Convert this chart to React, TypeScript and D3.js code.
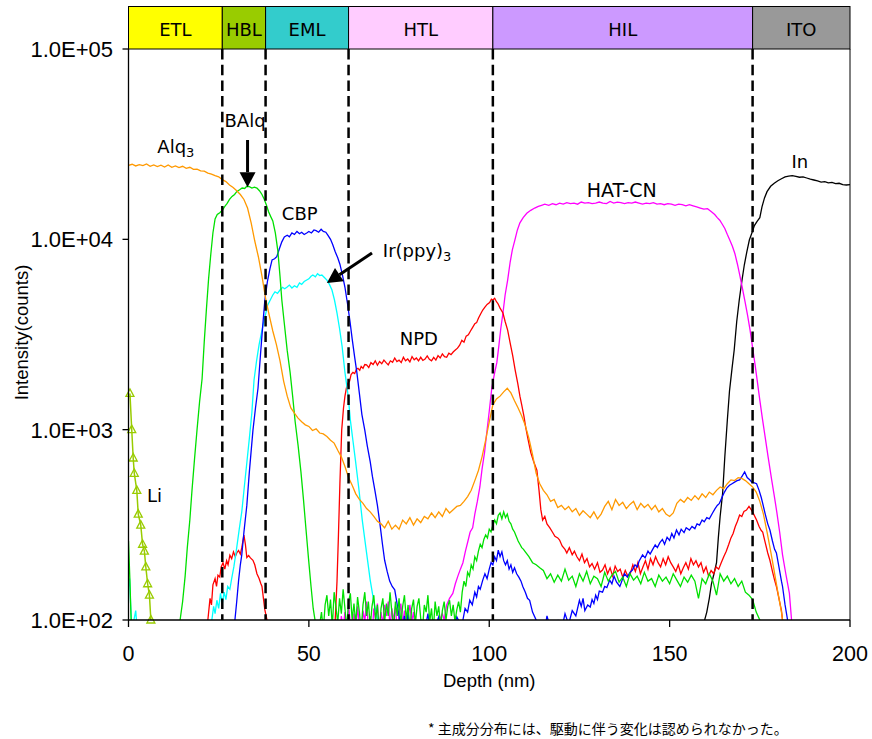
import React from "react";
import * as d3 from "d3";

// ---------- data (depth nm, counts) ----------
const layerNames = ["ETL", "HBL", "EML", "HTL", "HIL", "ITO"];
const layerEdges = [0, 26, 38, 61, 101, 173, 200];
const layerColors = ["#FFFF00", "#99CC00", "#33CCCC", "#FFCCFF", "#CC99FF", "#999999"];

const xTicks = [0, 50, 100, 150, 200];
const yTicks = [100, 1000, 10000, 100000];
const yTickLabels = ["1.0E+02", "1.0E+03", "1.0E+04", "1.0E+05"];

const alq3: [number, number][] = [[0,24500],[1,24800],[2,24300],[3,24700],[4,24400],[5,24900],[6,24200],[7,24600],[8,24100],[9,24500],[10,24000],[11,24600],[12,23900],[13,24300],[14,23800],[15,24200],[16,23600],[17,23900],[18,23300],[19,23400],[20,22900],[21,22800],[22,22300],[23,22000],[24,21600],[25,21300],[26,20600],[27,20100],[28,19300],[29,18700],[30,18000],[31,17200],[32,16200],[33,14600],[34,12200],[35,9800],[36,8100],[37,6400],[38,4900],[39,4000],[40,3300],[41,2800],[42,2300],[43,1800],[44,1500],[45,1300],[46,1220],[47,1150],[48,1100],[49,1060],[50,1040],[51,990],[52,1010],[53,960],[54,950],[55,920],[56,880],[57,850],[58,780],[59,720],[60,640],[61,560],[62,510],[63,460],[64,430],[65,410],[66,385],[67,370],[68,350],[69,330],[70,320],[71,305],[72,330],[73,300],[74,315],[75,300],[76,335],[77,320],[78,345],[79,315],[80,340],[81,325],[82,350],[83,340],[84,365],[85,345],[86,370],[87,350],[88,385],[89,365],[90,380],[91,395],[92,400],[93,420],[94,445],[95,480],[96,540],[97,610],[98,720],[99,880],[100,1100],[101,1350],[102,1450],[103,1500],[104,1580],[105,1650],[106,1560],[107,1420],[108,1300],[109,1180],[110,1050],[111,900],[112,740],[113,590],[114,520],[115,480],[116,455],[117,420],[118,430],[119,390],[120,400],[121,380],[122,395],[123,370],[124,385],[125,355],[126,375],[127,360],[128,345],[129,370],[130,340],[131,360],[132,395],[133,420],[134,380],[135,430],[136,400],[137,415],[138,385],[139,405],[140,420],[141,380],[142,410],[143,390],[144,405],[145,380],[146,400],[147,370],[148,385],[149,360],[150,350],[151,365],[152,410],[153,430],[154,415],[155,440],[156,425],[157,450],[158,430],[159,460],[160,440],[161,470],[162,455],[163,480],[164,500],[165,490],[166,520],[167,545],[168,540],[169,560],[170,555],[171,540],[172,520],[173,500],[174,470],[175,420],[176,360],[177,290],[178,230],[179,180],[180,140],[181,110],[182,80],[183,60]];

const balq: [number, number][] = [[0,260],[0.4,160],[0.8,90],[1.2,60],[13.5,60],[14.3,100],[15,125],[15.7,170],[16.3,240],[17,335],[17.6,480],[18.3,700],[19,1000],[19.7,1400],[20.4,1850],[21,2900],[21.6,4300],[22.2,6200],[22.8,8300],[23.4,10800],[24,12800],[24.6,13500],[25.3,13800],[26,14200],[26.7,14900],[27.3,15400],[28,16200],[28.7,16800],[29.4,17200],[30,17800],[30.8,18200],[31.5,18600],[32.2,18500],[32.8,19000],[33.5,18900],[34.2,18600],[34.9,18800],[35.6,18600],[36.3,18000],[37,17200],[37.6,16300],[38.2,15200],[38.8,14000],[39.4,13200],[40,12500],[40.7,10800],[41.4,8700],[42,6400],[42.5,4800],[43.2,3600],[44,2600],[44.8,2000],[45.5,1500],[46.2,1100],[47,830],[47.8,600],[48.5,430],[49.2,300],[49.9,210],[50.6,150],[51.2,115],[51.7,100],[52.3,80],[53,95],[53.5,110],[54,88],[54.5,120],[55,135],[55.5,105],[56,128],[56.5,92],[57,140],[57.5,118],[58,96],[58.5,130],[59,108],[59.5,145],[60,115],[60.5,90],[61,125],[61.5,138],[62,100],[62.5,122],[63,95],[63.5,132],[64,110],[64.5,88],[65,120],[65.5,140],[66,105],[66.5,125],[67,92],[67.5,118],[68,135],[68.5,100],[69,120],[69.5,85],[70,115],[70.5,130],[71,98],[71.5,122],[72,105],[72.5,140],[73,110],[73.5,90],[74,125],[74.5,105],[75,130],[75.5,95],[76,118],[76.5,135],[77,100],[77.5,120],[78,88],[78.5,115],[79,128],[79.5,95],[80,118],[80.5,130],[81,102],[81.5,90],[82,120],[82.5,110],[83,135],[83.5,98],[84,115],[84.5,88],[85,125],[85.5,105],[86,118],[86.5,92],[87,112],[87.5,125],[88,100],[88.5,118],[89,127],[89.5,105],[90,120],[90.5,98],[91,113],[91.5,125],[92,110],[92.5,140],[93,160],[93.5,150],[94,178],[94.5,170],[95,195],[95.5,185],[96,215],[96.5,205],[97,230],[97.5,250],[98,240],[98.5,265],[99,280],[99.5,270],[100,300],[100.5,290],[101,315],[101.5,335],[102,320],[102.5,355],[103,365],[103.5,340],[104,370],[104.5,345],[105,360],[105.5,330],[106,320],[106.5,300],[107,290],[107.5,275],[108,260],[108.5,250],[109,240],[109.5,235],[110,228],[111,215],[112,200],[113,195],[114,188],[115,182],[116,165],[117,175],[118,158],[119,172],[120,160],[121,185],[122,162],[123,170],[124,150],[125,175],[126,160],[127,180],[128,155],[129,170],[130,165],[131,150],[132,178],[133,160],[134,172],[135,180],[136,158],[137,168],[138,150],[139,175],[140,162],[141,170],[142,155],[143,178],[144,160],[145,165],[146,150],[147,172],[148,160],[149,168],[150,155],[151,175],[152,162],[153,150],[154,168],[155,158],[156,172],[157,160],[158,130],[159,165],[160,155],[161,175],[162,160],[163,135],[164,175],[165,160],[166,170],[167,155],[168,165],[169,150],[170,160],[171,140],[172,135],[173,128],[174,110],[175,100],[176,85]];

const cbp: [number, number][] = [[29,80],[29.5,100],[30,125],[30.5,160],[31,195],[31.4,220],[32,290],[32.8,400],[33.5,600],[34.5,995],[35.2,1300],[35.9,1650],[36.6,2500],[37.2,3500],[37.8,4800],[38.5,6000],[39.2,7000],[39.8,7800],[40.5,7900],[41.1,8100],[41.8,8900],[42.5,9700],[43.2,10300],[44,10500],[44.6,10300],[45.3,10800],[46,10600],[46.7,11000],[47.4,10700],[48,10900],[48.7,10600],[49.4,10800],[50,11000],[50.7,10800],[51.4,11200],[52,11100],[52.7,10900],[53.4,11300],[54,11000],[54.7,10900],[55.3,10500],[56,10000],[56.6,9400],[57.3,8600],[58,8000],[58.6,7400],[59.3,6500],[60,5600],[60.7,4600],[61.4,3700],[62,3000],[62.7,2400],[63.3,2000],[64,1550],[64.7,1200],[65.5,995],[66.2,820],[67,680],[67.6,570],[68.3,480],[69,400],[69.7,320],[70.4,250],[71,206],[71.7,180],[72.4,160],[73.1,150],[73.8,144],[74.5,120],[75.2,100],[75.8,85],[76.5,105],[77,90],[77.5,110],[78,80],[79,95],[80,75],[81,100],[82,85],[83,108],[84,78],[85,92],[86,104],[87,80],[88,98],[89,72],[90,90],[91,104],[92,95],[92.7,100],[93.3,115],[94,110],[94.6,127],[95.3,120],[96,140],[96.5,132],[97,150],[97.5,145],[98.2,162],[98.8,175],[99.4,165],[100,185],[100.5,200],[101,195],[101.5,215],[102,205],[102.5,233],[103,215],[103.5,228],[104,205],[104.5,195],[105,205],[105.5,185],[106,195],[106.5,178],[107,188],[107.6,175],[108.2,168],[108.8,160],[109.3,150],[110,140],[110.6,130],[111.2,127],[112,110],[113,100],[113.5,85],[114.5,98],[115,80],[116,105],[117,90],[118,75],[119,100],[120,88],[121,108],[122,95],[123,112],[124,105],[125,127],[125.5,118],[126,130],[126.5,112],[127.3,120],[128,117],[128.5,128],[129,122],[129.5,135],[130,128],[130.5,142],[131.4,140],[132,150],[132.6,148],[133.4,162],[134,155],[134.6,170],[135.3,158],[136.2,150],[137,165],[137.5,175],[138.3,168],[139,178],[139.7,183],[140.4,195],[141,190],[141.6,205],[142.5,220],[143.2,212],[144,230],[144.6,222],[145.3,235],[146,248],[146.6,240],[147.3,255],[148,265],[148.6,250],[149.3,272],[150,262],[150.6,285],[151.2,270],[151.9,297],[152.6,280],[153.2,300],[154,288],[154.6,305],[155.5,297],[156.2,310],[157,302],[157.6,320],[158.3,315],[159,335],[159.6,328],[160.3,345],[161,340],[161.9,365],[162.6,385],[163.2,400],[163.8,410],[164.5,440],[165.2,470],[165.9,495],[166.6,510],[167.3,520],[168,530],[168.7,540],[169.4,545],[170.1,570],[170.8,600],[171.5,560],[172.2,545],[172.8,530],[173.5,525],[174.1,520],[174.8,480],[175.4,440],[175.8,410],[176.5,360],[177.2,320],[177.8,297],[178.5,260],[179.1,235],[179.6,225],[180.3,190],[181,160],[181.3,150],[182,120],[182.7,100],[183.3,80]];

const irppy: [number, number][] = [[0,150],[0.3,165],[0.6,120],[1,85],[1.5,100],[2,112],[2.5,85],[3,95],[3.5,70],[22.5,70],[23.1,100],[23.6,118],[24,108],[24.5,127],[25,115],[25.5,138],[26,122],[26.5,140],[27,128],[27.5,150],[28.1,145],[28.6,165],[29.2,190],[30,240],[30.7,300],[31.4,370],[32.1,500],[32.8,670],[33.5,900],[34.2,1230],[34.8,1823],[35.5,2300],[36.2,2800],[37,3337],[37.8,3900],[38.6,4515],[39.3,4800],[40,5100],[40.6,5300],[41.3,5200],[42,5415],[42.7,5600],[43.3,5500],[43.9,5600],[44.6,5750],[45.3,5550],[46,5700],[46.7,5600],[47.4,5900],[48,5800],[48.7,6000],[49.4,6110],[50,6200],[50.6,6400],[51.1,6495],[51.8,6350],[52.4,6600],[53,6450],[53.6,6495],[54.3,6300],[55,6110],[55.7,5800],[56.4,5415],[57.1,4800],[57.8,4100],[58.5,3400],[59.2,2750],[60,2000],[60.9,1500],[61.5,1123],[62.2,880],[62.9,692],[63.8,500],[64.8,335],[65.8,240],[67,162],[68,125],[69.1,100],[70,80]];

const npd: [number, number][] = [[21.5,70],[22,100],[22.6,130],[23,120],[23.4,153],[24,165],[24.4,150],[24.8,172],[25.3,168],[25.7,190],[26.2,200],[26.7,185],[27.2,205],[27.6,195],[28.1,219],[28.6,210],[29.1,228],[29.6,215],[30,225],[30.5,232],[31,222],[31.4,240],[32,279],[32.4,250],[32.8,213],[33.3,218],[33.8,212],[34.5,206],[35,195],[35.6,175],[36.2,165],[36.7,155],[37,150],[37.4,130],[37.8,113],[38.4,100],[38.8,70],[56.8,70],[57.3,100],[57.8,160],[58.2,280],[58.6,520],[59.1,995],[59.6,1300],[60,1500],[60.4,1650],[60.8,1750],[61.3,1800],[61.7,1950],[62.2,2000],[62.7,1970],[63.2,2080],[63.6,2100],[64.1,2050],[64.5,2150],[65,2100],[65.5,2200],[66,2190],[66.6,2120],[67.2,2250],[67.8,2200],[68.4,2300],[69,2180],[69.6,2280],[70.2,2220],[70.8,2320],[71.4,2250],[72,2190],[72.6,2300],[73.2,2260],[73.8,2380],[74.4,2280],[75,2320],[75.6,2250],[76.2,2400],[76.8,2300],[77.4,2350],[78,2270],[78.6,2420],[79.2,2330],[79.8,2380],[80.4,2300],[81,2400],[81.6,2310],[82.2,2350],[82.8,2440],[83.4,2340],[84,2300],[84.6,2400],[85.2,2320],[85.8,2450],[86.4,2380],[87,2500],[87.6,2420],[88.2,2400],[88.8,2520],[89.4,2480],[90,2560],[90.6,2620],[91.2,2680],[91.8,2780],[92.4,2950],[93,2880],[93.6,3100],[94.2,3150],[94.8,3300],[95.4,3450],[96,3600],[96.5,3650],[97,3850],[97.6,4050],[98.2,4250],[98.8,4400],[99.4,4550],[100.1,4650],[100.6,4850],[101,4800],[101.5,4900],[102,4700],[102.4,4600],[103,4350],[103.8,4100],[104.4,3700],[105.1,3337],[105.8,2850],[106.5,2450],[107.2,2050],[107.9,1750],[108.5,1500],[109,1350],[109.6,1180],[110.1,1030],[110.8,880],[111.5,760],[112.3,680],[113.2,613],[113.8,480],[114.3,380],[114.8,335],[115.4,350],[116,320],[116.8,305],[117.5,290],[118.2,275],[119,270],[119.5,263],[120.2,245],[121,235],[121.5,225],[122.2,240],[123,220],[123.6,230],[124.3,215],[125,205],[125.7,222],[126.4,200],[127.1,210],[127.8,190],[128.5,198],[129.2,185],[130,200],[130.7,178],[131.4,183],[132.1,195],[132.8,175],[133.5,188],[134.2,170],[134.9,192],[135.6,180],[136.3,185],[137,168],[137.7,182],[138.4,170],[139.1,175],[139.8,195],[140.5,180],[141.2,200],[141.9,175],[142.6,190],[143.3,205],[144,185],[144.7,210],[145.4,195],[146.1,215],[146.8,200],[147.5,190],[148.2,210],[148.9,195],[149.6,215],[150.3,200],[151,190],[151.7,180],[152.4,195],[153.1,175],[153.8,188],[154.5,200],[155.2,185],[155.9,210],[156.6,195],[157.3,205],[158,190],[158.7,200],[159.4,178],[160.1,190],[160.8,170],[161.5,182],[162.2,175],[162.9,190],[163.6,185],[164.3,200],[165,215],[165.7,230],[166.4,250],[167,270],[167.6,285],[168.2,310],[168.8,330],[169.4,356],[170,350],[170.6,372],[171.3,378],[172,395],[172.7,378],[173.3,360],[174.1,335],[174.8,310],[175.4,295],[175.8,290],[176.5,255],[177.2,225],[177.8,206],[178.5,180],[179.1,162],[179.6,150],[180.3,130],[181,112],[181.3,100],[181.8,70]];

const hatcn: [number, number][] = [[57.5,70],[58,95],[58.5,80],[59,105],[59.5,90],[60,110],[60.5,85],[61,120],[61.5,95],[62,75],[62.5,108],[63,88],[63.5,118],[64,92],[64.5,80],[65,112],[65.5,98],[66,125],[66.5,90],[67,105],[67.5,82],[68,115],[68.5,100],[69,122],[69.5,88],[70,110],[70.5,95],[71,120],[71.5,105],[72,125],[72.5,92],[73,115],[73.5,100],[74,118],[74.5,85],[75,108],[75.5,122],[76,95],[76.5,112],[77,88],[77.5,105],[78,120],[78.5,98],[79,110],[79.5,85],[80,100],[80.5,78],[81,95],[81.5,70],[82,88],[83,75],[84,92],[85,80],[86,98],[87,108],[87.5,100],[88.2,120],[89,130],[89.9,138],[90.6,155],[91.3,170],[92,185],[92.7,200],[93.4,230],[94.1,260],[94.7,290],[95.4,305],[96,360],[96.7,420],[97.4,500],[98,620],[98.7,760],[99.3,960],[100,1250],[100.7,1650],[101.4,1950],[102.1,2250],[102.7,2800],[103.2,3400],[103.8,4100],[104.4,5100],[105.1,6110],[105.8,7600],[106.4,8800],[107.1,9915],[107.8,11200],[108.5,12200],[109.4,13000],[110.4,13700],[111.5,14200],[112.6,14600],[113.6,14900],[114.5,15100],[115.4,15300],[116.5,15100],[117.5,15400],[118.5,15200],[119.5,15500],[120.5,15300],[121.5,15600],[122.5,15400],[123.5,15500],[124.5,15300],[125.5,15700],[126.5,15500],[127.5,15600],[128.5,15400],[129.5,15500],[130.5,15700],[131.5,15500],[132.5,15400],[133.5,15800],[134.5,15500],[135.5,15700],[136.5,15600],[137.5,15400],[138.5,15600],[139.5,15500],[140.5,15700],[141.5,15500],[142.5,15300],[143.5,15500],[144.5,15400],[145.5,15600],[146.5,15300],[147.5,15400],[148.5,15200],[149.5,15400],[150.5,15300],[151.5,15100],[152.5,15300],[153.5,15200],[154.5,15000],[155.5,15200],[156.5,15000],[157.5,14800],[158.5,14600],[159.5,14400],[160.5,14500],[161.5,14000],[162.5,13500],[163.2,13000],[163.9,12600],[164.6,12000],[165.3,11400],[166,10600],[166.7,9900],[167.4,9200],[168.1,8400],[168.8,7400],[169.5,6400],[170.2,5500],[170.9,4700],[171.6,4000],[172.3,3337],[173,2700],[173.7,2185],[174.3,1800],[175,1431],[175.7,1150],[176.4,937],[177.3,720],[178.3,543],[179,450],[179.7,370],[180.5,290],[181.3,220],[182.2,175],[183.2,138],[183.8,100],[184.3,70]];

const indium: [number, number][] = [[159,70],[159.7,100],[160.3,110],[161,130],[161.6,155],[162.3,175],[163,200],[163.5,270],[164,350],[164.7,465],[165.3,720],[166,1123],[166.6,1600],[167.3,2100],[167.9,2620],[168.6,3700],[169.3,4800],[170,6000],[170.7,7330],[171.4,8600],[172.1,9915],[172.8,10800],[173.5,11800],[174.2,12400],[175,13000],[175.6,14800],[176.3,16500],[177,17800],[178,19000],[179,19700],[180,20300],[181,20800],[182,21300],[183,21500],[184,21600],[185,21400],[186,21200],[187,21300],[188,21000],[189,20700],[190,20500],[191,20300],[192,20000],[193,20100],[194,19800],[195,19900],[196,19600],[197,19700],[198,19400],[199,19300],[200,19400]];

const lithium: [number, number][] = [[0.4,1550],[0.9,1000],[1.3,710],[1.6,590],[2.3,480],[2.7,360],[3.4,315],[3.9,250],[4.4,230],[4.8,190],[5.3,155],[5.8,135],[6.2,100]];

const seriesList = [
  { name: "In", data: indium, color: "#000000" },
  { name: "HAT-CN", data: hatcn, color: "#FF00FF" },
  { name: "NPD", data: npd, color: "#FF0000" },
  { name: "Ir(ppy)3", data: irppy, color: "#00FFFF" },
  { name: "CBP", data: cbp, color: "#0000FF" },
  { name: "BAlq", data: balq, color: "#00E000" },
  { name: "Alq3", data: alq3, color: "#FF9900" },
];

export default function App() {
  const W = 872, H = 739;
  const left = 128.5, right = 850, top = 49, bottom = 620;
  const x = d3.scaleLinear().domain([0, 200]).range([left, right]);
  const y = d3.scaleLog().domain([100, 100000]).range([bottom, top]);
  const line = d3
    .line<[number, number]>()
    .x((d) => x(d[0]))
    .y((d) => y(Math.max(d[1], 20)));

  const annFont = "'DejaVu Sans', Verdana, sans-serif";
  const axFont = "'Liberation Sans', Arial, sans-serif";

  const arrow = (x1: number, y1: number, x2: number, y2: number, key: string) => {
    const ang = Math.atan2(y2 - y1, x2 - x1);
    const hl = 15, hw = 8;
    const bx = x2 - hl * Math.cos(ang), by = y2 - hl * Math.sin(ang);
    const px = -Math.sin(ang) * hw, py = Math.cos(ang) * hw;
    return (
      <g key={key}>
        <line x1={x1} y1={y1} x2={bx} y2={by} stroke="#000" strokeWidth={3} />
        <polygon points={`${x2},${y2} ${bx + px},${by + py} ${bx - px},${by - py}`} fill="#000" />
      </g>
    );
  };

  const tri = (cx: number, cy: number, i: number) => (
    <polygon key={i} points={`${cx},${cy - 4.5} ${cx - 4},${cy + 3} ${cx + 4},${cy + 3}`} fill="#fff" fillOpacity={0} stroke="#99CC00" strokeWidth={1.3} />
  );

  return (
    <svg width={W} height={H} style={{ position: "absolute", left: 0, top: 0, background: "#fff" }}>
      <defs>
        <clipPath id="plotclip">
          <rect x={left} y={top} width={right - left} height={bottom - top} />
        </clipPath>
      </defs>
      <rect x={0} y={0} width={W} height={H} fill="#fff" />

      {/* layer bar */}
      {layerNames.map((n, i) => (
        <g key={n}>
          <rect
            x={x(layerEdges[i])}
            y={6.5}
            width={x(layerEdges[i + 1]) - x(layerEdges[i])}
            height={top - 6.5}
            fill={layerColors[i]}
            stroke="#000"
            strokeWidth={1}
          />
          <text
            x={(x(layerEdges[i]) + x(layerEdges[i + 1])) / 2}
            y={36}
            textAnchor="middle"
            fontFamily={annFont}
            fontSize={18}
            fill="#000"
          >
            {n}
          </text>
        </g>
      ))}

      {/* series */}
      <g clipPath="url(#plotclip)">
        {seriesList.map((s) => (
          <path key={s.name} d={line(s.data) || ""} fill="none" stroke={s.color} strokeWidth={1.3} />
        ))}
        <path d={line(lithium) || ""} fill="none" stroke="#99CC00" strokeWidth={1.5} />
      </g>
      {lithium.map((d, i) => tri(x(d[0]), y(d[1]), i))}

      {/* dashed layer boundaries */}
      {layerEdges.slice(1, -1).map((e) => (
        <line key={e} x1={x(e)} x2={x(e)} y1={top} y2={bottom} stroke="#000" strokeWidth={2.5} strokeDasharray="10.5,5.2" />
      ))}

      {/* axes */}
      <line x1={left} x2={left} y1={top} y2={bottom} stroke="#000" strokeWidth={1.3} />
      <line x1={right} x2={right} y1={top} y2={bottom} stroke="#000" strokeWidth={1} />
      <line x1={left} x2={right} y1={bottom} y2={bottom} stroke="#000" strokeWidth={1.3} />
      {yTicks.map((t, i) => (
        <g key={t}>
          <line x1={left - 6} x2={left} y1={y(t)} y2={y(t)} stroke="#000" strokeWidth={1.3} />
          <text x={113} y={y(t)} dy="0.36em" textAnchor="end" fontFamily={axFont} fontSize={22} fill="#000">
            {yTickLabels[i]}
          </text>
        </g>
      ))}
      {xTicks.map((t) => (
        <g key={t}>
          <line x1={x(t)} x2={x(t)} y1={bottom} y2={bottom + 7} stroke="#000" strokeWidth={1.3} />
          <text x={x(t)} y={661} textAnchor="middle" fontFamily={axFont} fontSize={21.5} fill="#000">
            {t}
          </text>
        </g>
      ))}
      <text x={(left + right) / 2} y={687} textAnchor="middle" fontFamily={axFont} fontSize={18.5} fill="#000">
        Depth (nm)
      </text>
      <text
        transform={`translate(27.5, ${(top + bottom) / 2 - 2}) rotate(-90)`}
        textAnchor="middle"
        fontFamily={axFont}
        fontSize={18.5}
        fill="#000"
      >
        Intensity(counts)
      </text>

      {/* annotations */}
      <text x={x(8)} y={y(28400)} fontFamily={annFont} fontSize={18} fill="#000">
        Alq<tspan fontSize={13} dy={4}>3</tspan>
      </text>
      <text x={x(32.3)} y={y(38900)} textAnchor="middle" fontFamily={annFont} fontSize={18} fill="#000">
        BAlq
      </text>
      {arrow(x(33), y(33250), x(33), y(18800), "a1")}
      <text x={x(42.5)} y={y(12630)} fontFamily={annFont} fontSize={18} fill="#000">
        CBP
      </text>
      <text x={x(70.5)} y={y(8070)} fontFamily={annFont} fontSize={18} fill="#000">
        Ir(ppy)<tspan fontSize={13} dy={4}>3</tspan>
      </text>
      {arrow(x(67.5), y(8470), x(55), y(5900), "a2")}
      <text x={x(75.2)} y={y(2783)} fontFamily={annFont} fontSize={18} fill="#000">
        NPD
      </text>
      <text x={x(127)} y={y(16690)} fontFamily={annFont} fontSize={19} fill="#000">
        HAT-CN
      </text>
      <text x={x(183.8)} y={y(23700)} fontFamily={annFont} fontSize={18} fill="#000">
        In
      </text>
      <text x={x(5.1)} y={y(416)} fontFamily={annFont} fontSize={18} fill="#000">
        Li
      </text>

      <text x={428} y={734} fontFamily="'Noto Sans CJK JP', sans-serif" fontSize={14} fill="#000">
        * 主成分分布には、駆動に伴う変化は認められなかった。
      </text>
    </svg>
  );
}
